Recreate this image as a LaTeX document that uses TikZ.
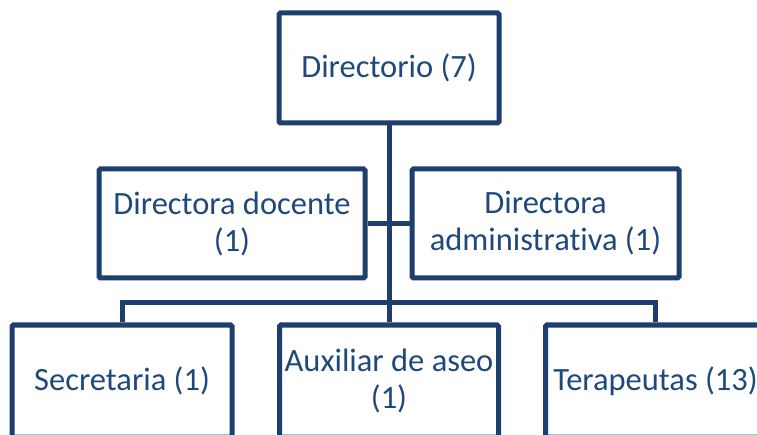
\documentclass[tikz,border=0pt]{standalone}
\usepackage{fontspec}
\setmainfont{Carlito}[Ligatures=NoCommon]
\definecolor{boxline}{RGB}{30,62,110}
\definecolor{boxtext}{RGB}{31,73,125}
\begin{document}
\begin{tikzpicture}[x=1pt,y=-1pt,
  orgbox/.style={draw=boxline, line width=5pt, rounded corners=1.5pt, fill=white,
    text=boxtext, align=center, inner sep=0pt,
    font=\fontsize{32.5}{37}\selectfont},
  link/.style={draw=boxline, line width=5pt}]
\useasboundingbox (0,0) rectangle (757,435);
\node[orgbox, minimum width=220pt, minimum height=110pt] (top) at (389,68) {Directorio (7)};
\node[orgbox, minimum width=266pt, minimum height=109pt] (ml) at (232,223.5) {Directora docente\\(1)};
\node[orgbox, minimum width=267pt, minimum height=109pt] (mr) at (545.5,223.5) {Directora\\administrativa (1)};
\node[orgbox, minimum width=220pt, minimum height=112pt] (bl) at (122,381) {Secretaria (1)};
\node[orgbox, minimum width=219pt, minimum height=112pt] (bm) at (389,381) {Auxiliar de aseo\\(1)};
\node[orgbox, minimum width=220pt, minimum height=112pt] (br) at (655.5,381) {Terapeutas (13)};
\coordinate (bus) at (389,303);
\draw[link] (top.south) -- (bm.north);
\draw[link] (ml.east) -- (mr.west);
\draw[link] (bl.north) |- (bus) -| (br.north);
\end{tikzpicture}
\end{document}
